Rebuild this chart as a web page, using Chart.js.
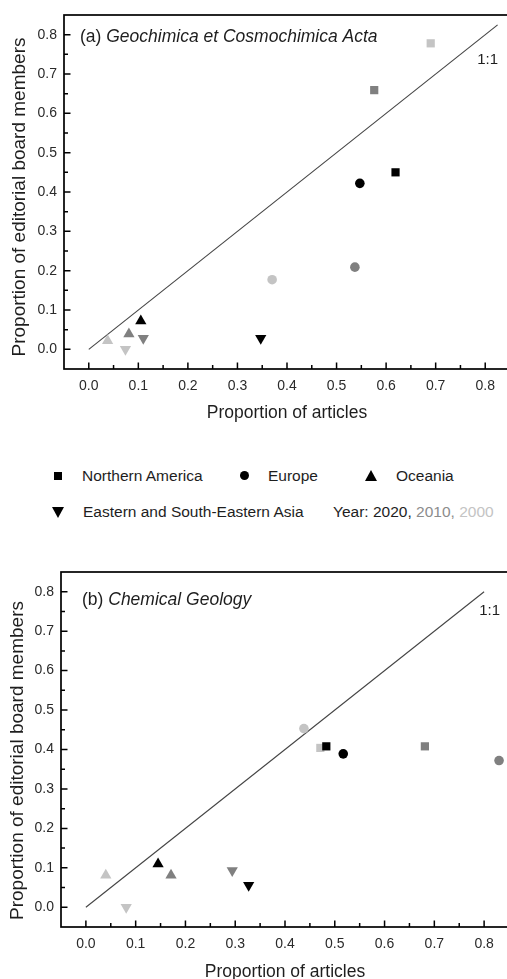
<!DOCTYPE html>
<html>
<head>
<meta charset="utf-8">
<title>Editorial board vs articles</title>
<script src="https://cdn.jsdelivr.net/npm/chart.js@4.4.0/dist/chart.umd.min.js"></script>
<style>
  html, body { margin: 0; padding: 0; background: #fff; }
  #page { position: relative; width: 507px; height: 979px; overflow: hidden; }
  .panel { position: absolute; left: 0; }
  #chartA { top: 0; }
  #chartB { top: 540px; }
  .lg { position: absolute; font-family: 'Liberation Sans', Arial, sans-serif; font-size: 15.5px; color: #1e1e1e; white-space: nowrap; line-height: 18px; transform: translateY(-50%); }
  .sym { position: absolute; }
  .sq { width: 8px; height: 8px; background: #000; }
  .ci { width: 9px; height: 9px; border-radius: 50%; background: #000; }
  .up { width: 0; height: 0; border-left: 6px solid transparent; border-right: 6px solid transparent; border-bottom: 11px solid #000; }
  .dn { width: 0; height: 0; border-left: 6px solid transparent; border-right: 6px solid transparent; border-top: 11px solid #000; }
</style>
</head>
<body>
<div id="page">
<canvas class="panel" id="chartA" width="512" height="430"></canvas>
<canvas class="panel" id="chartB" width="512" height="439"></canvas>

<div class="sym sq" style="left:54px; top:472px;"></div>
<div class="lg" style="left:82px; top:476px;">Northern America</div>
<div class="sym ci" style="left:240px; top:471px;"></div>
<div class="lg" style="left:268px; top:476px;">Europe</div>
<div class="sym up" style="left:365px; top:470px;"></div>
<div class="lg" style="left:396px; top:476px;">Oceania</div>
<div class="sym dn" style="left:52px; top:507px;"></div>
<div class="lg" style="left:83px; top:512px;">Eastern and South-Eastern Asia</div>
<div class="lg" style="left:333px; top:512px;">Year: 2020, <span style="color:#8c8c8c">2010,</span> <span style="color:#c4c4c4">2000</span></div>
</div>

<script>
// values, each array ordered 2000, 2010, 2020
const years = ['2000', '2010', '2020'];
const tickValues = [0, 0.1, 0.2, 0.3, 0.4, 0.5, 0.6, 0.7, 0.8];
const tickLabels = ['0.0', '0.1', '0.2', '0.3', '0.4', '0.5', '0.6', '0.7', '0.8'];

// (a) Geochimica et Cosmochimica Acta
const gcaAmericaX = [0.690, 0.576, 0.619];
const gcaAmericaY = [0.778, 0.659, 0.450];
const gcaEuropeX = [0.370, 0.537, 0.547];
const gcaEuropeY = [0.177, 0.209, 0.422];
const gcaOceaniaX = [0.038, 0.081, 0.105];
const gcaOceaniaY = [0.022, 0.039, 0.072];
const gcaAsiaX = [0.074, 0.110, 0.347];
const gcaAsiaY = [0.000, 0.028, 0.028];
const gcaLineEnd = 0.825;

// (b) Chemical Geology
const cgAmericaX = [0.471, 0.681, 0.483];
const cgAmericaY = [0.404, 0.408, 0.408];
const cgEuropeX = [0.438, 0.830, 0.517];
const cgEuropeY = [0.453, 0.372, 0.389];
const cgOceaniaX = [0.040, 0.171, 0.145];
const cgOceaniaY = [0.081, 0.081, 0.110];
const cgAsiaX = [0.081, 0.294, 0.327];
const cgAsiaY = [0.000, 0.093, 0.056];
const cgLineEnd = 0.8;

const yearColors = ['#c4c4c4', '#808080', '#000000'];
const FONT = "'Liberation Sans', Arial, sans-serif";

function pts(xs, ys) {
  return xs.map((x, i) => ({ x: x, y: ys[i] }));
}

function group(label, xs, ys, style, radius, rotation) {
  return {
    type: 'scatter',
    label: label,
    data: pts(xs, ys),
    pointStyle: style,
    pointRadius: radius,
    pointHoverRadius: radius,
    pointRotation: rotation || 0,
    pointBackgroundColor: yearColors,
    pointBorderColor: yearColors,
    pointBorderWidth: 0,
    order: 1
  };
}

// frame + inward major/minor ticks
const frameTicks = {
  id: 'frameTicks',
  afterDraw(chart) {
    const ctx = chart.ctx;
    const a = chart.chartArea;
    const xs = chart.scales.x, ys = chart.scales.y;
    ctx.save();
    ctx.strokeStyle = '#000';
    ctx.lineWidth = 1.7;
    ctx.strokeRect(a.left, a.top, a.right - a.left, a.bottom - a.top);
    ctx.lineWidth = 1.5;
    ctx.beginPath();
    for (let i = 0; i <= 16; i++) {
      const v = i / 20;
      const len = i % 2 === 0 ? 6.5 : 4;
      const px = xs.getPixelForValue(v);
      ctx.moveTo(px, a.bottom);
      ctx.lineTo(px, a.bottom - len);
      const py = ys.getPixelForValue(v);
      ctx.moveTo(a.left, py);
      ctx.lineTo(a.left + len, py);
    }
    ctx.stroke();
    ctx.restore();
  }
};

// panel title, 1:1 label and axis titles
const panelText = {
  id: 'panelText',
  afterDraw(chart, args, o) {
    const ctx = chart.ctx;
    const a = chart.chartArea;
    ctx.save();
    ctx.fillStyle = '#1e1e1e';
    ctx.textBaseline = 'middle';
    ctx.textAlign = 'left';
    ctx.font = '17.5px ' + FONT;
    ctx.fillText(o.tag, o.titleX, o.titleY);
    const w = ctx.measureText(o.tag).width;
    ctx.font = 'italic 17.5px ' + FONT;
    ctx.fillText(o.journal, o.titleX + w, o.titleY);
    ctx.font = '15px ' + FONT;
    ctx.textAlign = 'right';
    ctx.fillText('1:1', o.oneX, o.oneY);
    ctx.textAlign = 'center';
    ctx.font = '17.5px ' + FONT;
    ctx.fillText('Proportion of articles', (a.left + a.right) / 2, o.xTitleY);
    ctx.translate(o.yTitleX, (a.top + a.bottom) / 2 + o.yTitleShift);
    ctx.rotate(-Math.PI / 2);
    ctx.font = '19px ' + FONT;
    ctx.fillText('Proportion of editorial board members', 0, 0);
    ctx.restore();
  }
};

function makeChart(id, sets, lineEnd, yWidth, xHeight, padTop, padRight, text) {
  const datasets = [
    group('Northern America', sets[0], sets[1], 'rect', 5.8),
    group('Europe', sets[2], sets[3], 'circle', 4.8),
    group('Oceania', sets[4], sets[5], 'triangle', 6.5),
    group('Eastern and South-Eastern Asia', sets[6], sets[7], 'triangle', 6.5, 180),
    {
      type: 'line',
      label: '1:1',
      data: [{ x: 0, y: 0 }, { x: lineEnd, y: lineEnd }],
      borderColor: '#444',
      borderWidth: 1.1,
      pointRadius: 0,
      order: 10
    }
  ];
  const tickFont = { family: FONT, size: 14 };
  return new Chart(document.getElementById(id), {
    type: 'scatter',
    data: { datasets: datasets },
    options: {
      responsive: false,
      devicePixelRatio: 1,
      animation: false,
      // canvas is wider than the page so the right side of the frame falls just outside, as in the source
      layout: { autoPadding: false, padding: { top: padTop, right: padRight, bottom: 0, left: 0 } },
      plugins: {
        legend: { display: false },
        tooltip: { enabled: false },
        panelText: text
      },
      scales: {
        x: {
          type: 'linear', min: -0.05, max: 0.85,
          grid: { display: false, drawTicks: false },
          border: { display: false },
          afterBuildTicks: s => { s.ticks = tickValues.map(v => ({ value: v })); },
          afterFit: s => { s.height = xHeight; s.paddingLeft = 0; s.paddingRight = 0; },
          ticks: {
            color: '#2a2a2a', font: tickFont, padding: 9, maxRotation: 0,
            callback: (v, i) => tickLabels[i]
          }
        },
        y: {
          type: 'linear', min: -0.05, max: 0.85,
          grid: { display: false, drawTicks: false },
          border: { display: false },
          afterBuildTicks: s => { s.ticks = tickValues.map(v => ({ value: v })); },
          afterFit: s => { s.width = yWidth; s.paddingTop = 0; s.paddingBottom = 0; },
          ticks: {
            color: '#2a2a2a', font: tickFont, padding: 7,
            callback: (v, i) => tickLabels[i]
          }
        }
      }
    },
    plugins: [frameTicks, panelText]
  });
}

makeChart('chartA',
  [gcaAmericaX, gcaAmericaY, gcaEuropeX, gcaEuropeY, gcaOceaniaX, gcaOceaniaY, gcaAsiaX, gcaAsiaY],
  gcaLineEnd, 64, 61, 15, 2,
  { tag: '(a) ', journal: 'Geochimica et Cosmochimica Acta', titleX: 80, titleY: 37,
    oneX: 498, oneY: 60, xTitleY: 413, yTitleX: 20, yTitleShift: 5 });

makeChart('chartB',
  [cgAmericaX, cgAmericaY, cgEuropeX, cgEuropeY, cgOceaniaX, cgOceaniaY, cgAsiaX, cgAsiaY],
  cgLineEnd, 61, 52, 32, 3,
  { tag: '(b) ', journal: 'Chemical Geology', titleX: 82, titleY: 60,
    oneX: 500, oneY: 71, xTitleY: 432, yTitleX: 18, yTitleShift: 11 });
</script>
</body>
</html>
